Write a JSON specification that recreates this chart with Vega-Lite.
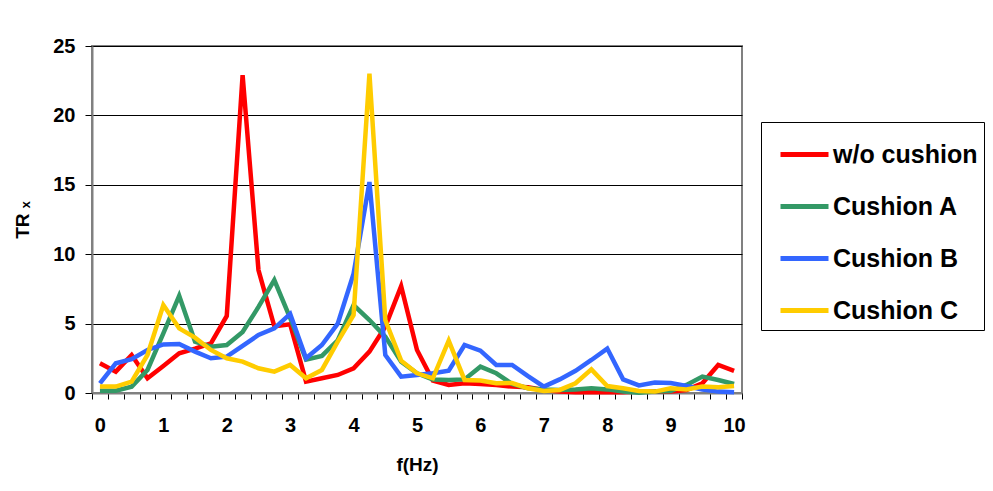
{
  "$schema": "https://vega.github.io/schema/vega-lite/v6.json",
  "width": 650,
  "height": 347,
  "autosize": {"type": "none"},
  "padding": {"left": 92, "top": 46, "right": 251, "bottom": 98},
  "background": "white",
  "data": {
    "values": [
      {"f": 0, "w/o cushion": 2.14, "Cushion A": 0.17, "Cushion B": 0.7, "Cushion C": 0.46},
      {"f": 0.25, "w/o cushion": 1.54, "Cushion A": 0.17, "Cushion B": 2.14, "Cushion C": 0.46},
      {"f": 0.5, "w/o cushion": 2.74, "Cushion A": 0.46, "Cushion B": 2.43, "Cushion C": 0.82},
      {"f": 0.75, "w/o cushion": 1.06, "Cushion A": 1.66, "Cushion B": 3.1, "Cushion C": 2.74},
      {"f": 1, "w/o cushion": 1.95, "Cushion A": 4.3, "Cushion B": 3.5, "Cushion C": 6.34},
      {"f": 1.25, "w/o cushion": 2.86, "Cushion A": 7.0, "Cushion B": 3.53, "Cushion C": 4.66},
      {"f": 1.5, "w/o cushion": 3.2, "Cushion A": 3.7, "Cushion B": 2.98, "Cushion C": 3.99},
      {"f": 1.75, "w/o cushion": 3.58, "Cushion A": 3.34, "Cushion B": 2.5, "Cushion C": 3.1},
      {"f": 2, "w/o cushion": 5.55, "Cushion A": 3.46, "Cushion B": 2.62, "Cushion C": 2.5},
      {"f": 2.25, "w/o cushion": 22.9, "Cushion A": 4.4, "Cushion B": 3.39, "Cushion C": 2.26},
      {"f": 2.5, "w/o cushion": 8.86, "Cushion A": 6.2, "Cushion B": 4.18, "Cushion C": 1.78},
      {"f": 2.75, "w/o cushion": 4.8, "Cushion A": 8.14, "Cushion B": 4.66, "Cushion C": 1.54},
      {"f": 3, "w/o cushion": 4.95, "Cushion A": 5.4, "Cushion B": 5.7, "Cushion C": 2.02},
      {"f": 3.25, "w/o cushion": 0.82, "Cushion A": 2.4, "Cushion B": 2.5, "Cushion C": 1.06},
      {"f": 3.5, "w/o cushion": 1.06, "Cushion A": 2.67, "Cushion B": 3.46, "Cushion C": 1.66},
      {"f": 3.75, "w/o cushion": 1.3, "Cushion A": 3.8, "Cushion B": 5.0, "Cushion C": 3.7},
      {"f": 4, "w/o cushion": 1.78, "Cushion A": 6.34, "Cushion B": 8.6, "Cushion C": 5.62},
      {"f": 4.25, "w/o cushion": 2.98, "Cushion A": 5.26, "Cushion B": 15.2, "Cushion C": 23.0},
      {"f": 4.5, "w/o cushion": 4.78, "Cushion A": 4.06, "Cushion B": 2.74, "Cushion C": 5.26},
      {"f": 4.75, "w/o cushion": 7.7, "Cushion A": 2.26, "Cushion B": 1.18, "Cushion C": 2.33},
      {"f": 5, "w/o cushion": 3.1, "Cushion A": 1.42, "Cushion B": 1.3, "Cushion C": 1.42},
      {"f": 5.25, "w/o cushion": 0.9, "Cushion A": 0.98, "Cushion B": 1.42, "Cushion C": 1.06},
      {"f": 5.5, "w/o cushion": 0.58, "Cushion A": 0.94, "Cushion B": 1.6, "Cushion C": 3.77},
      {"f": 5.75, "w/o cushion": 0.7, "Cushion A": 0.98, "Cushion B": 3.46, "Cushion C": 0.94},
      {"f": 6, "w/o cushion": 0.65, "Cushion A": 1.9, "Cushion B": 3.05, "Cushion C": 0.9},
      {"f": 6.25, "w/o cushion": 0.58, "Cushion A": 1.42, "Cushion B": 2.02, "Cushion C": 0.7},
      {"f": 6.5, "w/o cushion": 0.46, "Cushion A": 0.65, "Cushion B": 2.02, "Cushion C": 0.72},
      {"f": 6.75, "w/o cushion": 0.41, "Cushion A": 0.34, "Cushion B": 1.22, "Cushion C": 0.34},
      {"f": 7, "w/o cushion": 0.22, "Cushion A": 0.26, "Cushion B": 0.46, "Cushion C": 0.14},
      {"f": 7.25, "w/o cushion": 0.1, "Cushion A": 0.22, "Cushion B": 0.98, "Cushion C": 0.22},
      {"f": 7.5, "w/o cushion": 0.05, "Cushion A": 0.26, "Cushion B": 1.6, "Cushion C": 0.7},
      {"f": 7.75, "w/o cushion": 0.05, "Cushion A": 0.34, "Cushion B": 2.38, "Cushion C": 1.7},
      {"f": 8, "w/o cushion": 0.05, "Cushion A": 0.26, "Cushion B": 3.2, "Cushion C": 0.5},
      {"f": 8.25, "w/o cushion": 0.05, "Cushion A": 0.1, "Cushion B": 0.98, "Cushion C": 0.34},
      {"f": 8.5, "w/o cushion": 0.1, "Cushion A": 0.02, "Cushion B": 0.55, "Cushion C": 0.14},
      {"f": 8.75, "w/o cushion": 0.1, "Cushion A": 0.1, "Cushion B": 0.75, "Cushion C": 0.1},
      {"f": 9, "w/o cushion": 0.1, "Cushion A": 0.14, "Cushion B": 0.72, "Cushion C": 0.34},
      {"f": 9.25, "w/o cushion": 0.22, "Cushion A": 0.58, "Cushion B": 0.5, "Cushion C": 0.26},
      {"f": 9.5, "w/o cushion": 0.7, "Cushion A": 1.18, "Cushion B": 0.25, "Cushion C": 0.46},
      {"f": 9.75, "w/o cushion": 2.02, "Cushion A": 0.94, "Cushion B": 0.1, "Cushion C": 0.41},
      {"f": 10, "w/o cushion": 1.6, "Cushion A": 0.65, "Cushion B": 0.05, "Cushion C": 0.5}
    ]
  },
  "transform": [
    {"fold": ["w/o cushion", "Cushion A", "Cushion B", "Cushion C"], "as": ["series", "TR"]}
  ],
  "mark": {"type": "line", "strokeWidth": 4.5, "strokeJoin": "miter", "strokeCap": "butt", "clip": false},
  "encoding": {
    "x": {
      "field": "f",
      "type": "quantitative",
      "scale": {"domain": [-0.125, 10.125], "nice": false, "zero": false},
      "axis": {
        "title": "f(Hz)",
        "values": [-0.125, 0.125, 0.375, 0.625, 0.875, 1.125, 1.375, 1.625, 1.875, 2.125, 2.375, 2.625, 2.875, 3.125, 3.375, 3.625, 3.875, 4.125, 4.375, 4.625, 4.875, 5.125, 5.375, 5.625, 5.875, 6.125, 6.375, 6.625, 6.875, 7.125, 7.375, 7.625, 7.875, 8.125, 8.375, 8.625, 8.875, 9.125, 9.375, 9.625, 9.875, 10.125],
        "labelExpr": "abs(datum.value + 0.125 - round(datum.value + 0.125)) < 0.001 ? format(datum.value + 0.125, 'd') : ''",
        "labelOffset": 7.9,
        "labelOverlap": false,
        "labelFlush": false,
        "grid": false,
        "tickSize": 6,
        "tickColor": "#000000",
        "domainColor": "#808080",
        "domainWidth": 2,
        "labelPadding": 16,
        "titlePadding": 20
      }
    },
    "y": {
      "field": "TR",
      "type": "quantitative",
      "scale": {"domain": [0, 25], "nice": false},
      "axis": {
        "title": "TR ₓ",
        "values": [0, 5, 10, 15, 20, 25],
        "grid": true,
        "gridColor": "#000000",
        "gridWidth": 1,
        "tickSize": 7,
        "tickColor": "#000000",
        "domainColor": "#808080",
        "domainWidth": 2,
        "labelPadding": 10,
        "titlePadding": 20
      }
    },
    "color": {
      "field": "series",
      "type": "nominal",
      "scale": {
        "domain": ["w/o cushion", "Cushion A", "Cushion B", "Cushion C"],
        "range": ["#FF0000", "#339966", "#3366FF", "#FFCC00"]
      },
      "legend": {
        "title": null,
        "orient": "none",
        "legendX": 669,
        "legendY": 76,
        "symbolType": "stroke",
        "symbolSize": 2304,
        "symbolStrokeWidth": 5,
        "symbolOffset": 11,
        "labelFontSize": 25,
        "labelFont": "Liberation Sans",
        "labelFontWeight": "bold",
        "labelColor": "#000000",
        "labelOffset": 2,
        "labelExpr": "datum.label + '   '",
        "padding": 6,
        "rowPadding": 12,
        "strokeColor": "#000000",
        "fillColor": "#FFFFFF"
      }
    }
  },
  "config": {
    "font": "Liberation Sans",
    "view": {"stroke": "#808080", "strokeWidth": 2},
    "axis": {
      "labelFont": "Liberation Sans",
      "labelFontSize": 20,
      "labelFontWeight": "bold",
      "labelColor": "#000000",
      "titleFont": "Liberation Sans",
      "titleFontSize": 19,
      "titleFontWeight": "bold",
      "titleColor": "#000000"
    }
  }
}
